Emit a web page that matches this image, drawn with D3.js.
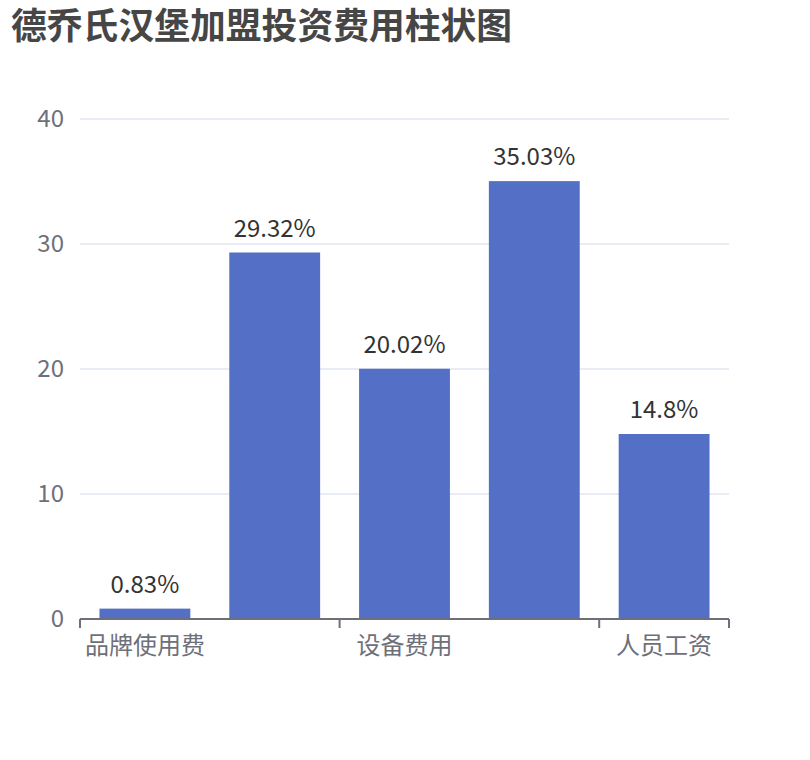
<!DOCTYPE html>
<html>
<head>
<meta charset="utf-8">
<script src="https://cdn.jsdelivr.net/npm/d3@7"></script>
<style>
  body { margin: 0; background: #fff; }
  text { font-family: "Noto Sans CJK SC", "Noto Sans", sans-serif; }
</style>
</head>
<body>
<div id="chart"></div>
<script>
// data
var categories = ["品牌使用费", "加盟费", "设备费用", "装修费用", "人员工资"];
var values = [0.83, 29.32, 20.02, 35.03, 14.8];
var yTicks = [0, 10, 20, 30, 40];

var svgWidth = 810;
var svgHeight = 760;
var margin = { top: 119, right: 81, bottom: 141, left: 80 };
var width = svgWidth - margin.left - margin.right;
var height = svgHeight - margin.top - margin.bottom;

var svg = d3.select("#chart").append("svg")
  .attr("width", svgWidth)
  .attr("height", svgHeight);

svg.append("text")
  .attr("x", 11)
  .attr("y", 39)
  .attr("font-size", 35.8)
  .attr("font-weight", "bold")
  .attr("fill", "#464646")
  .text("德乔氏汉堡加盟投资费用柱状图");

var chartGroup = svg.append("g")
  .attr("transform", `translate(${margin.left}, ${margin.top})`);

var x = d3.scaleBand().domain(categories).range([0, width]).paddingInner(0.3).paddingOuter(0.15);
var y = d3.scaleLinear().domain([0, 40]).range([height, 0]);

// grid lines
chartGroup.selectAll(".grid")
  .data(yTicks.filter(d => d > 0))
  .enter().append("line")
  .attr("x1", 0).attr("x2", width)
  .attr("y1", d => y(d)).attr("y2", d => y(d))
  .attr("stroke", "#e0e6f1").attr("stroke-width", 1.5);

// y labels
chartGroup.selectAll(".ylab")
  .data(yTicks)
  .enter().append("text")
  .attr("x", -16)
  .attr("y", d => y(d))
  .attr("dy", "0.35em")
  .attr("text-anchor", "end")
  .attr("font-size", 24)
  .attr("fill", "#6e7079")
  .text(d => d);

// bars
chartGroup.selectAll(".bar")
  .data(values)
  .enter().append("rect")
  .attr("x", (d, i) => x(categories[i]))
  .attr("y", d => y(d))
  .attr("width", x.bandwidth())
  .attr("height", d => height - y(d))
  .attr("fill", "#5470c6");

// value labels
chartGroup.selectAll(".vlab")
  .data(values)
  .enter().append("text")
  .attr("x", (d, i) => x(categories[i]) + x.bandwidth() / 2)
  .attr("y", d => y(d) - 16)
  .attr("text-anchor", "middle")
  .attr("font-size", 24)
  .attr("fill", "#333")
  .text(d => d + "%");

// x axis
var step = width / categories.length;
chartGroup.append("line")
  .attr("x1", 0).attr("x2", width)
  .attr("y1", height).attr("y2", height)
  .attr("stroke", "#6e7079").attr("stroke-width", 2);

var tickIdx = [0, 2, 4, 5];
chartGroup.selectAll(".xtick")
  .data(tickIdx)
  .enter().append("line")
  .attr("x1", d => d * step).attr("x2", d => d * step)
  .attr("y1", height).attr("y2", height + 9)
  .attr("stroke", "#6e7079").attr("stroke-width", 2);

chartGroup.selectAll(".xlab")
  .data(categories.filter((d, i) => i % 2 === 0))
  .enter().append("text")
  .attr("x", d => x(d) + x.bandwidth() / 2)
  .attr("y", height + 27)
  .attr("dy", "0.35em")
  .attr("text-anchor", "middle")
  .attr("font-size", 24)
  .attr("fill", "#6e7079")
  .text(d => d);
</script>
</body>
</html>
